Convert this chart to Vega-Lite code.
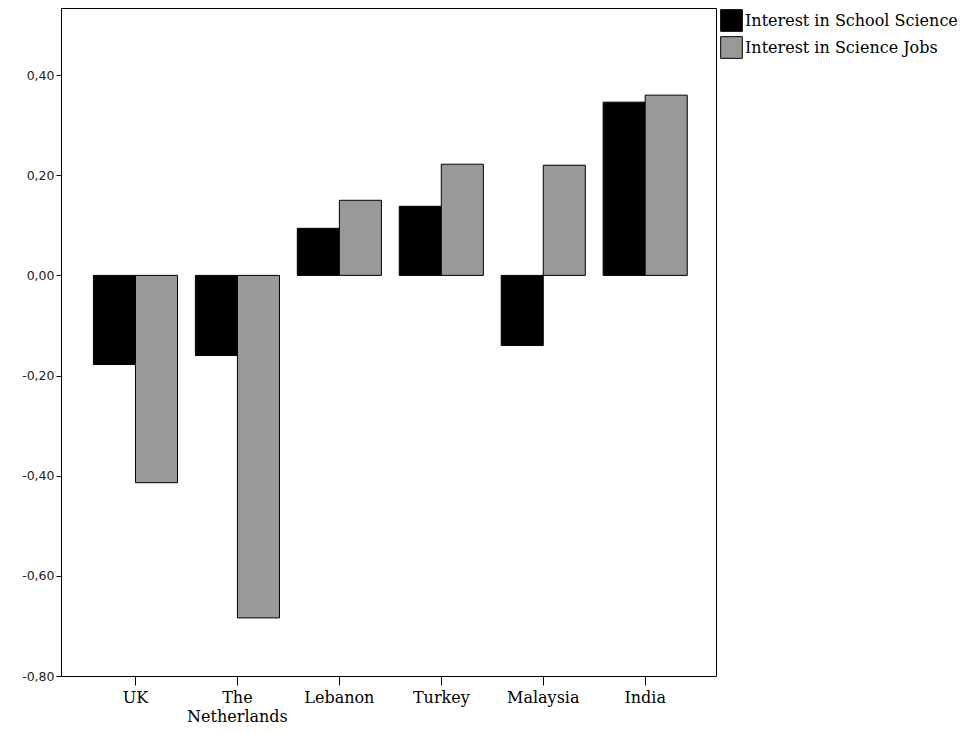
{
  "$schema": "https://vega.github.io/schema/vega-lite/v6.json",
  "autosize": {"type": "none"},
  "padding": {"left": 61, "top": 8, "right": 253, "bottom": 57},
  "width": 655,
  "height": 668,
  "background": "white",
  "config": {
    "view": {"stroke": "#000000", "strokeWidth": 1},
    "axis": {"grid": false, "domainColor": "#000000", "tickColor": "#000000", "labelColor": "#000000"}
  },
  "data": {
    "values": [
      {"country": "UK", "measure": "Interest in School Science", "value": -0.178},
      {"country": "UK", "measure": "Interest in Science Jobs", "value": -0.414},
      {"country": "The Netherlands", "measure": "Interest in School Science", "value": -0.16},
      {"country": "The Netherlands", "measure": "Interest in Science Jobs", "value": -0.684},
      {"country": "Lebanon", "measure": "Interest in School Science", "value": 0.094},
      {"country": "Lebanon", "measure": "Interest in Science Jobs", "value": 0.15},
      {"country": "Turkey", "measure": "Interest in School Science", "value": 0.138},
      {"country": "Turkey", "measure": "Interest in Science Jobs", "value": 0.222},
      {"country": "Malaysia", "measure": "Interest in School Science", "value": -0.14},
      {"country": "Malaysia", "measure": "Interest in Science Jobs", "value": 0.22},
      {"country": "India", "measure": "Interest in School Science", "value": 0.346},
      {"country": "India", "measure": "Interest in Science Jobs", "value": 0.36}
    ]
  },
  "mark": {"type": "bar", "stroke": "#000000", "strokeWidth": 1},
  "encoding": {
    "x": {
      "field": "country",
      "type": "nominal",
      "sort": ["UK", "The Netherlands", "Lebanon", "Turkey", "Malaysia", "India"],
      "scale": {"paddingInner": 0.175, "paddingOuter": 0.3, "align": 0.53},
      "axis": {
        "title": null,
        "labelAngle": 0,
        "domain": false,
        "tickSize": 9,
        "labelPadding": 4,
        "labelFont": "DejaVu Serif",
        "labelFontSize": 16,
        "labelLineHeight": 19,
        "labelExpr": "datum.label == 'The Netherlands' ? ['The', 'Netherlands'] : datum.label"
      }
    },
    "xOffset": {
      "field": "measure",
      "type": "nominal",
      "sort": ["Interest in School Science", "Interest in Science Jobs"]
    },
    "y": {
      "field": "value",
      "type": "quantitative",
      "scale": {"domain": [-0.8, 0.534], "nice": false, "zero": false},
      "axis": {
        "title": null,
        "values": [-0.8, -0.6, -0.4, -0.2, 0, 0.2, 0.4],
        "tickSize": 5,
        "labelPadding": 2,
        "labelFont": "DejaVu Sans",
        "labelFontSize": 12.5,
        "labelColor": "#222222",
        "labelExpr": "replace(replace(format(datum.value, '.2f'), '.', ','), '\u2212', '-')"
      }
    },
    "color": {
      "field": "measure",
      "type": "nominal",
      "sort": ["Interest in School Science", "Interest in Science Jobs"],
      "scale": {"domain": ["Interest in School Science", "Interest in Science Jobs"], "range": ["#000000", "#999999"]},
      "legend": {
        "title": null,
        "orient": "none",
        "legendX": 659,
        "legendY": 1,
        "padding": 0,
        "symbolType": "square",
        "symbolSize": 470,
        "symbolStrokeColor": "#000000",
        "symbolStrokeWidth": 1,
        "symbolOpacity": 1,
        "rowPadding": 0,
        "labelFont": "DejaVu Serif",
        "labelFontSize": 16,
        "labelColor": "#000000",
        "labelOffset": 2,
        "labelLimit": 400
      }
    }
  }
}
